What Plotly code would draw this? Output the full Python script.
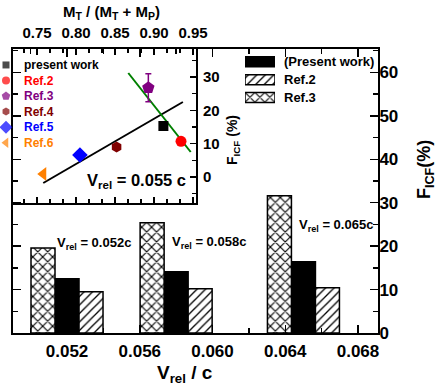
import plotly.graph_objects as go

W, H = 438, 388
FONT = "Liberation Sans, Arial, sans-serif"

# ---------------- main bar chart data ----------------
vrel = [0.052, 0.058, 0.065]
bar_names = ["(Present work)", "Ref.2", "Ref.3"]
f_present = [12.5, 14.1, 16.4]
f_ref2 = [9.5, 10.2, 10.4]
f_ref3 = [19.6, 25.4, 31.6]
bar_values = [f_present, f_ref2, f_ref3]
bar_fill = ["black", "white", "white"]
bar_pattern = ["", "/", "x"]
bar_pattern_size = [6, 6, 7]
bar_solidity = [0.2, 0.22, 0.3]
bar_offset_units = [-0.5, 0.5, -1.5]
bar_labels = ["V<sub>rel</sub> = 0.052c", "V<sub>rel</sub> = 0.058c", "V<sub>rel</sub> = 0.065c"]

# ---------------- inset data ----------------
inset_names = ["present work", "Ref.2", "Ref.3", "Ref.4", "Ref.5", "Ref.6"]
mass_ratio = [0.912, 0.9346, 0.8927, 0.852, 0.805, 0.758]
f_icf = [15.3, 10.7, 26.8, 9.0, 6.6, 0.9]
f_err = [1.2, 0.0, 4.2, 0.0, 0.0, 0.0]
inset_colors = ["black", "#FF0000", "#800080", "#800000", "#0000FF", "#FF8000"]
inset_symbols = ["square", "circle", "pentagon", "hexagon", "diamond", "triangle-left"]
inset_sizes = [10, 11, 13, 11, 12, 12]
legend_sizes = [7, 8, 9, 8, 10, 9]

fit_black_x = [0.758, 0.937]
fit_black_y = [-1.8, 22.5]
fit_green_x = [0.867, 0.947]
fit_green_y = [31.2, 7.5]


def px(x):
    return x / W


def py(y):
    return 1 - y / H


fig = go.Figure()

# main bars
bw = 0.00132
for name, vals, fill, pat, psz, sol, off in zip(bar_names, bar_values, bar_fill, bar_pattern,
                                                bar_pattern_size, bar_solidity, bar_offset_units):
    fig.add_trace(go.Bar(
        x=vrel, y=vals, width=bw, offset=off * bw, name=name,
        marker=dict(color=fill, line=dict(color="black", width=1.5),
                    pattern=dict(shape=pat, fgcolor="black", bgcolor=fill,
                                 size=psz, solidity=sol)),
        xaxis="x", yaxis="y", showlegend=False, hoverinfo="skip"))

# inset fit lines
fig.add_trace(go.Scatter(x=fit_black_x, y=fit_black_y, mode="lines",
                         line=dict(color="black", width=2),
                         xaxis="x2", yaxis="y2", showlegend=False))
fig.add_trace(go.Scatter(x=fit_green_x, y=fit_green_y, mode="lines",
                         line=dict(color="#008000", width=2),
                         xaxis="x2", yaxis="y2", showlegend=False))

# inset points
for name, xv, yv, ev, c, s, sz in zip(inset_names, mass_ratio, f_icf, f_err,
                                      inset_colors, inset_symbols, inset_sizes):
    fig.add_trace(go.Scatter(
        x=[xv], y=[yv], mode="markers", name=name,
        marker=dict(color=c, symbol=s, size=sz, line=dict(width=0)),
        error_y=dict(type="data", array=[ev], visible=ev > 0, color=c,
                     thickness=1.5, width=3),
        xaxis="x2", yaxis="y2", showlegend=False))

# inset legend markers (categorical mini-axis)
fig.add_trace(go.Scatter(
    x=[0] * len(inset_names), y=inset_names, mode="markers",
    marker=dict(color=inset_colors, symbol=inset_symbols, size=legend_sizes,
                line=dict(width=0)),
    xaxis="x3", yaxis="y3", showlegend=False, cliponaxis=False))

# bar legend swatches (categorical mini-axis)
for name, fill, pat, psz, sol in zip(bar_names, bar_fill, bar_pattern, bar_pattern_size, bar_solidity):
    fig.add_trace(go.Bar(
        x=[1], y=[name], orientation="h",
        marker=dict(color=fill, line=dict(color="black", width=1.5),
                    pattern=dict(shape=pat, fgcolor="black", bgcolor=fill,
                                 size=psz, solidity=sol)),
        xaxis="x4", yaxis="y4", showlegend=False, hoverinfo="skip"))

axis_common = dict(showline=True, linecolor="black", linewidth=2, showgrid=False,
                   zeroline=False, ticks="inside", tickcolor="black", tickwidth=1.5,
                   automargin=False,
                   tickfont=dict(family=FONT, size=17, color="black", weight="bold"))
inset_common = dict(showline=True, linecolor="black", linewidth=2, showgrid=False,
                    zeroline=False, ticks="inside", tickcolor="black", tickwidth=1.2,
                    automargin=False,
                    tickfont=dict(family=FONT, size=15, color="black", weight="bold"))
hidden = dict(visible=False, automargin=False, showgrid=False, zeroline=False)

fig.update_layout(
    template="none",
    width=W, height=H,
    margin=dict(l=0, r=0, t=0, b=0, pad=0, autoexpand=False),
    paper_bgcolor="white", plot_bgcolor="rgba(0,0,0,0)",
    barmode="overlay", bargap=0.44,
    font=dict(family=FONT, color="black"),
    xaxis=dict(**axis_common, domain=[px(13), px(378)], anchor="y",
               range=[0.04903, 0.0691], tick0=0.052, dtick=0.004, tickformat=".3f",
               ticklen=8, mirror="ticks", ticklabelstandoff=2,
               minor=dict(dtick=0.002, ticklen=5, ticks="inside", tickcolor="black", tickwidth=1.5)),
    yaxis=dict(**axis_common, domain=[py(333), py(49)], anchor="x", side="right",
               range=[0, 65.4], dtick=10, ticklen=8, mirror="ticks", ticklabelstandoff=-4,
               minor=dict(dtick=5, ticklen=5, ticks="inside", tickcolor="black", tickwidth=1.5)),
    xaxis2=dict(**inset_common, domain=[px(13), px(196)], anchor="y2", side="top",
                range=[0.7192, 0.9538], tick0=0.75, dtick=0.05, tickformat=".2f",
                ticklen=6, mirror="ticks", ticklabelstandoff=3,
                minor=dict(dtick=0.05 / 3, ticklen=4, ticks="inside", tickcolor="black", tickwidth=1.2)),
    yaxis2=dict(**inset_common, domain=[py(203), py(49)], anchor="x2", side="right",
                range=[-7.8, 38.4], dtick=10, ticklen=6, mirror=True, ticklabelstandoff=2,
                minor=dict(dtick=5, ticklen=4, ticks="inside", tickcolor="black", tickwidth=1.2)),
    xaxis3=dict(**hidden, domain=[0, px(22)], range=[-0.375, 1], anchor="y3"),
    yaxis3=dict(**hidden, domain=[py(150.5), py(57.2)], type="category", categoryorder="array",
                categoryarray=inset_names, range=[len(inset_names) - 0.5, -0.5], anchor="x3"),
    xaxis4=dict(**hidden, domain=[px(245), px(275)], range=[0, 1], anchor="y4"),
    yaxis4=dict(**hidden, domain=[py(106.5), py(52.8)], type="category", categoryorder="array",
                categoryarray=bar_names, range=[len(bar_names) - 0.5, -0.5], anchor="x4"),
)

ann = []
# inset legend text
for name, c in zip(inset_names, inset_colors):
    ann.append(dict(x=px(22), y=name, xref="paper", yref="y3", text=name,
                    xanchor="left", yanchor="middle", showarrow=False,
                    font=dict(family=FONT, size=12, color=c, weight="bold")))
# bar legend text
for name in bar_names:
    ann.append(dict(x=px(282), y=name, xref="paper", yref="y4", text=name,
                    xanchor="left", yanchor="middle", showarrow=False,
                    font=dict(family=FONT, size=13, color="black", weight="bold")))
# bar group labels
label_pos = [(55, 243), (170, 242), (297, 225)]
for t, (lx, ly) in zip(bar_labels, label_pos):
    ann.append(dict(x=px(lx), y=py(ly), xref="paper", yref="paper", text=t,
                    xanchor="left", yanchor="middle", showarrow=False,
                    font=dict(family=FONT, size=13, color="black", weight="bold")))
# inset velocity label
ann.append(dict(x=px(85), y=py(181), xref="paper", yref="paper",
                text="V<sub>rel</sub> = 0.055 c", xanchor="left", yanchor="middle",
                showarrow=False, font=dict(family=FONT, size=16.5, color="black", weight="bold")))
# axis titles
ann.append(dict(x=px(185), y=py(374), xref="paper", yref="paper",
                text="V<sub>rel</sub> / c", xanchor="center", yanchor="middle",
                showarrow=False, font=dict(family=FONT, size=19, color="black", weight="bold")))
ann.append(dict(x=px(425), y=py(170), xref="paper", yref="paper",
                text="F<sub>ICF</sub>(%)", textangle=-90, xanchor="center", yanchor="middle",
                showarrow=False, font=dict(family=FONT, size=18, color="black", weight="bold")))
ann.append(dict(x=px(111), y=py(13), xref="paper", yref="paper",
                text="M<sub>T</sub> / (M<sub>T</sub> + M<sub>P</sub>)", xanchor="center",
                yanchor="middle", showarrow=False,
                font=dict(family=FONT, size=15, color="black", weight="bold")))
ann.append(dict(x=px(233), y=py(140), xref="paper", yref="paper",
                text="F<sub>ICF</sub> (%)", textangle=-90, xanchor="center", yanchor="middle",
                showarrow=False, font=dict(family=FONT, size=14, color="black", weight="bold")))
fig.update_layout(annotations=ann)

fig.write_html("out.html", config={"staticPlot": True, "displayModeBar": False},
               post_script="document.body.style.margin='0px';")
